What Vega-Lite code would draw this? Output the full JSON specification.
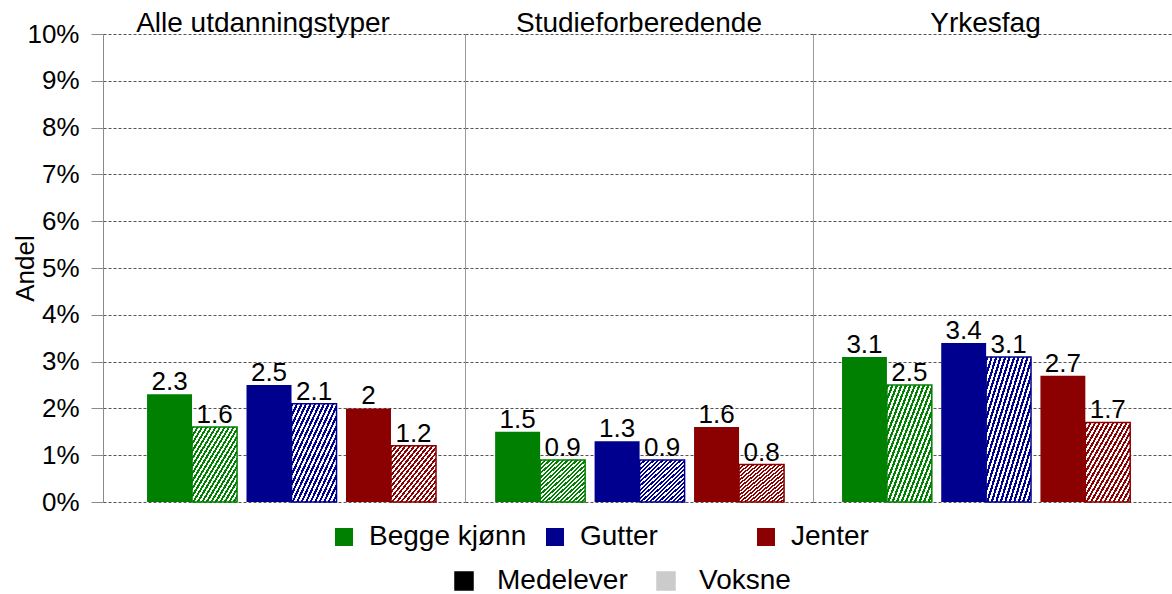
{
  "$schema": "https://vega.github.io/schema/vega-lite/v6.json",
  "padding": {"left": 12, "top": 10, "right": 0, "bottom": 0},
  "data": {"values": [
    {"category": "Alle utdanningstyper", "gender": "Begge kjønn", "type": "Medelever", "value": 2.3},
    {"category": "Alle utdanningstyper", "gender": "Begge kjønn", "type": "Voksne", "value": 1.6},
    {"category": "Alle utdanningstyper", "gender": "Gutter", "type": "Medelever", "value": 2.5},
    {"category": "Alle utdanningstyper", "gender": "Gutter", "type": "Voksne", "value": 2.1},
    {"category": "Alle utdanningstyper", "gender": "Jenter", "type": "Medelever", "value": 2},
    {"category": "Alle utdanningstyper", "gender": "Jenter", "type": "Voksne", "value": 1.2},
    {"category": "Studieforberedende", "gender": "Begge kjønn", "type": "Medelever", "value": 1.5},
    {"category": "Studieforberedende", "gender": "Begge kjønn", "type": "Voksne", "value": 0.9},
    {"category": "Studieforberedende", "gender": "Gutter", "type": "Medelever", "value": 1.3},
    {"category": "Studieforberedende", "gender": "Gutter", "type": "Voksne", "value": 0.9},
    {"category": "Studieforberedende", "gender": "Jenter", "type": "Medelever", "value": 1.6},
    {"category": "Studieforberedende", "gender": "Jenter", "type": "Voksne", "value": 0.8},
    {"category": "Yrkesfag", "gender": "Begge kjønn", "type": "Medelever", "value": 3.1},
    {"category": "Yrkesfag", "gender": "Begge kjønn", "type": "Voksne", "value": 2.5},
    {"category": "Yrkesfag", "gender": "Gutter", "type": "Medelever", "value": 3.4},
    {"category": "Yrkesfag", "gender": "Gutter", "type": "Voksne", "value": 3.1},
    {"category": "Yrkesfag", "gender": "Jenter", "type": "Medelever", "value": 2.7},
    {"category": "Yrkesfag", "gender": "Jenter", "type": "Voksne", "value": 1.7}
  ]},
  "spacing": 0,
  "resolve": {"scale": {"x": "independent", "xOffset": "independent", "y": "independent"}},
  "hconcat": [
    {
      "width": 362, "height": 468,
      "title": {"text": "Alle utdanningstyper", "dx": -21, "offset": -39, "baseline": "alphabetic"},
      "transform": [{"filter": "datum.category === 'Alle utdanningstyper'"}],
      "encoding": {
        "x": {"field": "gender", "type": "nominal", "axis": null, "scale": {"domain": ["Begge kjønn", "Gutter", "Jenter"], "paddingInner": 0.095, "paddingOuter": 0.367, "align": 0.603}},
        "y": {"field": "value", "type": "quantitative", "scale": {"domain": [0, 10], "nice": false},
          "axis": {"values": [0,1,2,3,4,5,6,7,8,9,10], "labelExpr": "datum.value + '%'", "title": "Andel", "titlePadding": -12, "labelPadding": 12, "tickSize": 12, "domain": true, "ticks": true, "labels": true, "grid": true}}
      },
      "resolve": {"scale": {"xOffset": "independent"}},
      "layer": [
        {"transform": [{"filter": "datum.type === 'Medelever'"}],
         "mark": {"type": "bar"},
         "encoding": {
           "xOffset": {"field": "type", "type": "nominal", "scale": {"domain": ["Medelever", "Voksne"], "paddingInner": 0, "paddingOuter": 0}},
           "fill": {"field": "gender", "type": "nominal", "scale": {"domain": ["Begge kjønn", "Gutter", "Jenter"], "range": ["#008000", "#00008e", "#8b0000"]},
             "legend": {"title": null, "orient": "none", "legendX": 227, "legendY": 489, "labelOffset": 11, "columnPadding": 14, "gridAlign": "all"}},
           "opacity": {"field": "type", "type": "nominal", "scale": {"domain": ["Medelever", "Voksne"], "range": [1, 0.2]},
             "legend": {"title": null, "orient": "none", "legendX": 347, "legendY": 533, "labelOffset": 19, "columnPadding": 24, "gridAlign": "each", "symbolFillColor": "#000000", "symbolStrokeColor": "#000000", "symbolStrokeWidth": 1.5}}
         }},
        {"transform": [{"filter": "datum.type === 'Voksne'"}],
         "mark": {"type": "bar"},
         "encoding": {
           "xOffset": {"field": "type", "type": "nominal", "scale": {"domain": ["Medelever", "Voksne"], "paddingInner": 0, "paddingOuter": 0}},
           "fill": {"field": "gender", "type": "nominal", "scale": {"domain": ["Begge kjønn", "Gutter", "Jenter"], "range": ["#008000", "#00008e", "#8b0000"]},
             "legend": {"title": null, "orient": "none", "legendX": 227, "legendY": 489, "labelOffset": 11, "columnPadding": 14, "gridAlign": "all"}}
         }},
        {"transform": [{"filter": "datum.type === 'Voksne'"}],
         "mark": {"type": "bar", "strokeWidth": 1.5, "fill": {"gradient": "linear", "x1": 0, "y1": 0, "x2": 1, "y2": 1, "stops": [
        {"offset": 0, "color": "rgba(255,255,255,0)"}, {"offset": 0.025, "color": "rgba(255,255,255,0)"}, {"offset": 0.025, "color": "#ffffff"}, {"offset": 0.05, "color": "#ffffff"},
        {"offset": 0.05, "color": "rgba(255,255,255,0)"}, {"offset": 0.075, "color": "rgba(255,255,255,0)"}, {"offset": 0.075, "color": "#ffffff"}, {"offset": 0.1, "color": "#ffffff"},
        {"offset": 0.1, "color": "rgba(255,255,255,0)"}, {"offset": 0.125, "color": "rgba(255,255,255,0)"}, {"offset": 0.125, "color": "#ffffff"}, {"offset": 0.15, "color": "#ffffff"},
        {"offset": 0.15, "color": "rgba(255,255,255,0)"}, {"offset": 0.175, "color": "rgba(255,255,255,0)"}, {"offset": 0.175, "color": "#ffffff"}, {"offset": 0.2, "color": "#ffffff"},
        {"offset": 0.2, "color": "rgba(255,255,255,0)"}, {"offset": 0.225, "color": "rgba(255,255,255,0)"}, {"offset": 0.225, "color": "#ffffff"}, {"offset": 0.25, "color": "#ffffff"},
        {"offset": 0.25, "color": "rgba(255,255,255,0)"}, {"offset": 0.275, "color": "rgba(255,255,255,0)"}, {"offset": 0.275, "color": "#ffffff"}, {"offset": 0.3, "color": "#ffffff"},
        {"offset": 0.3, "color": "rgba(255,255,255,0)"}, {"offset": 0.325, "color": "rgba(255,255,255,0)"}, {"offset": 0.325, "color": "#ffffff"}, {"offset": 0.35, "color": "#ffffff"},
        {"offset": 0.35, "color": "rgba(255,255,255,0)"}, {"offset": 0.375, "color": "rgba(255,255,255,0)"}, {"offset": 0.375, "color": "#ffffff"}, {"offset": 0.4, "color": "#ffffff"},
        {"offset": 0.4, "color": "rgba(255,255,255,0)"}, {"offset": 0.425, "color": "rgba(255,255,255,0)"}, {"offset": 0.425, "color": "#ffffff"}, {"offset": 0.45, "color": "#ffffff"},
        {"offset": 0.45, "color": "rgba(255,255,255,0)"}, {"offset": 0.475, "color": "rgba(255,255,255,0)"}, {"offset": 0.475, "color": "#ffffff"}, {"offset": 0.5, "color": "#ffffff"},
        {"offset": 0.5, "color": "rgba(255,255,255,0)"}, {"offset": 0.525, "color": "rgba(255,255,255,0)"}, {"offset": 0.525, "color": "#ffffff"}, {"offset": 0.55, "color": "#ffffff"},
        {"offset": 0.55, "color": "rgba(255,255,255,0)"}, {"offset": 0.575, "color": "rgba(255,255,255,0)"}, {"offset": 0.575, "color": "#ffffff"}, {"offset": 0.6, "color": "#ffffff"},
        {"offset": 0.6, "color": "rgba(255,255,255,0)"}, {"offset": 0.625, "color": "rgba(255,255,255,0)"}, {"offset": 0.625, "color": "#ffffff"}, {"offset": 0.65, "color": "#ffffff"},
        {"offset": 0.65, "color": "rgba(255,255,255,0)"}, {"offset": 0.675, "color": "rgba(255,255,255,0)"}, {"offset": 0.675, "color": "#ffffff"}, {"offset": 0.7, "color": "#ffffff"},
        {"offset": 0.7, "color": "rgba(255,255,255,0)"}, {"offset": 0.725, "color": "rgba(255,255,255,0)"}, {"offset": 0.725, "color": "#ffffff"}, {"offset": 0.75, "color": "#ffffff"},
        {"offset": 0.75, "color": "rgba(255,255,255,0)"}, {"offset": 0.775, "color": "rgba(255,255,255,0)"}, {"offset": 0.775, "color": "#ffffff"}, {"offset": 0.8, "color": "#ffffff"},
        {"offset": 0.8, "color": "rgba(255,255,255,0)"}, {"offset": 0.825, "color": "rgba(255,255,255,0)"}, {"offset": 0.825, "color": "#ffffff"}, {"offset": 0.85, "color": "#ffffff"},
        {"offset": 0.85, "color": "rgba(255,255,255,0)"}, {"offset": 0.875, "color": "rgba(255,255,255,0)"}, {"offset": 0.875, "color": "#ffffff"}, {"offset": 0.9, "color": "#ffffff"},
        {"offset": 0.9, "color": "rgba(255,255,255,0)"}, {"offset": 0.925, "color": "rgba(255,255,255,0)"}, {"offset": 0.925, "color": "#ffffff"}, {"offset": 0.95, "color": "#ffffff"},
        {"offset": 0.95, "color": "rgba(255,255,255,0)"}, {"offset": 0.975, "color": "rgba(255,255,255,0)"}, {"offset": 0.975, "color": "#ffffff"}, {"offset": 1, "color": "#ffffff"}
         ]}},
         "encoding": {
           "xOffset": {"field": "type", "type": "nominal", "scale": {"domain": ["Medelever", "Voksne"], "paddingInner": 0, "paddingOuter": 0}},
           "stroke": {"field": "gender", "type": "nominal", "scale": {"domain": ["Begge kjønn", "Gutter", "Jenter"], "range": ["#008000", "#00008e", "#8b0000"]}, "legend": null}
         }},
        {"mark": {"type": "text", "baseline": "alphabetic", "dy": -4, "fontSize": 26, "color": "#000000"},
         "encoding": {
           "xOffset": {"field": "type", "type": "nominal", "scale": {"type": "point", "domain": ["Medelever", "Voksne"], "padding": 0.5}},
           "text": {"field": "value", "type": "quantitative"}
         }}
      ]
    },
    {
      "width": 348, "height": 468,
      "title": {"text": "Studieforberedende", "offset": -26, "baseline": "alphabetic"},
      "transform": [{"filter": "datum.category === 'Studieforberedende'"}],
      "encoding": {
        "x": {"field": "gender", "type": "nominal", "axis": null, "scale": {"domain": ["Begge kjønn", "Gutter", "Jenter"], "paddingInner": 0.095, "paddingOuter": 0.297, "align": 0.51}},
        "y": {"field": "value", "type": "quantitative", "scale": {"domain": [0, 10], "nice": false},
          "axis": {"values": [0,1,2,3,4,5,6,7,8,9,10], "title": null, "domain": true, "domainColor": "#9a9a9a", "ticks": false, "labels": false, "grid": true}}
      },
      "resolve": {"scale": {"xOffset": "independent"}},
      "layer": [
        {"transform": [{"filter": "datum.type === 'Medelever'"}],
         "mark": {"type": "bar"},
         "encoding": {
           "xOffset": {"field": "type", "type": "nominal", "scale": {"domain": ["Medelever", "Voksne"], "paddingInner": 0, "paddingOuter": 0}},
           "fill": {"field": "gender", "type": "nominal", "scale": {"domain": ["Begge kjønn", "Gutter", "Jenter"], "range": ["#008000", "#00008e", "#8b0000"]},
             "legend": {"title": null, "orient": "none", "legendX": 227, "legendY": 489, "labelOffset": 11, "columnPadding": 14, "gridAlign": "all"}},
           "opacity": {"field": "type", "type": "nominal", "scale": {"domain": ["Medelever", "Voksne"], "range": [1, 0.2]}, "legend": null}
         }},
        {"transform": [{"filter": "datum.type === 'Voksne'"}],
         "mark": {"type": "bar"},
         "encoding": {
           "xOffset": {"field": "type", "type": "nominal", "scale": {"domain": ["Medelever", "Voksne"], "paddingInner": 0, "paddingOuter": 0}},
           "fill": {"field": "gender", "type": "nominal", "scale": {"domain": ["Begge kjønn", "Gutter", "Jenter"], "range": ["#008000", "#00008e", "#8b0000"]},
             "legend": {"title": null, "orient": "none", "legendX": 227, "legendY": 489, "labelOffset": 11, "columnPadding": 14, "gridAlign": "all"}}
         }},
        {"transform": [{"filter": "datum.type === 'Voksne'"}],
         "mark": {"type": "bar", "strokeWidth": 1.5, "fill": {"gradient": "linear", "x1": 0, "y1": 0, "x2": 1, "y2": 1, "stops": [
        {"offset": 0, "color": "rgba(255,255,255,0)"}, {"offset": 0.025, "color": "rgba(255,255,255,0)"}, {"offset": 0.025, "color": "#ffffff"}, {"offset": 0.05, "color": "#ffffff"},
        {"offset": 0.05, "color": "rgba(255,255,255,0)"}, {"offset": 0.075, "color": "rgba(255,255,255,0)"}, {"offset": 0.075, "color": "#ffffff"}, {"offset": 0.1, "color": "#ffffff"},
        {"offset": 0.1, "color": "rgba(255,255,255,0)"}, {"offset": 0.125, "color": "rgba(255,255,255,0)"}, {"offset": 0.125, "color": "#ffffff"}, {"offset": 0.15, "color": "#ffffff"},
        {"offset": 0.15, "color": "rgba(255,255,255,0)"}, {"offset": 0.175, "color": "rgba(255,255,255,0)"}, {"offset": 0.175, "color": "#ffffff"}, {"offset": 0.2, "color": "#ffffff"},
        {"offset": 0.2, "color": "rgba(255,255,255,0)"}, {"offset": 0.225, "color": "rgba(255,255,255,0)"}, {"offset": 0.225, "color": "#ffffff"}, {"offset": 0.25, "color": "#ffffff"},
        {"offset": 0.25, "color": "rgba(255,255,255,0)"}, {"offset": 0.275, "color": "rgba(255,255,255,0)"}, {"offset": 0.275, "color": "#ffffff"}, {"offset": 0.3, "color": "#ffffff"},
        {"offset": 0.3, "color": "rgba(255,255,255,0)"}, {"offset": 0.325, "color": "rgba(255,255,255,0)"}, {"offset": 0.325, "color": "#ffffff"}, {"offset": 0.35, "color": "#ffffff"},
        {"offset": 0.35, "color": "rgba(255,255,255,0)"}, {"offset": 0.375, "color": "rgba(255,255,255,0)"}, {"offset": 0.375, "color": "#ffffff"}, {"offset": 0.4, "color": "#ffffff"},
        {"offset": 0.4, "color": "rgba(255,255,255,0)"}, {"offset": 0.425, "color": "rgba(255,255,255,0)"}, {"offset": 0.425, "color": "#ffffff"}, {"offset": 0.45, "color": "#ffffff"},
        {"offset": 0.45, "color": "rgba(255,255,255,0)"}, {"offset": 0.475, "color": "rgba(255,255,255,0)"}, {"offset": 0.475, "color": "#ffffff"}, {"offset": 0.5, "color": "#ffffff"},
        {"offset": 0.5, "color": "rgba(255,255,255,0)"}, {"offset": 0.525, "color": "rgba(255,255,255,0)"}, {"offset": 0.525, "color": "#ffffff"}, {"offset": 0.55, "color": "#ffffff"},
        {"offset": 0.55, "color": "rgba(255,255,255,0)"}, {"offset": 0.575, "color": "rgba(255,255,255,0)"}, {"offset": 0.575, "color": "#ffffff"}, {"offset": 0.6, "color": "#ffffff"},
        {"offset": 0.6, "color": "rgba(255,255,255,0)"}, {"offset": 0.625, "color": "rgba(255,255,255,0)"}, {"offset": 0.625, "color": "#ffffff"}, {"offset": 0.65, "color": "#ffffff"},
        {"offset": 0.65, "color": "rgba(255,255,255,0)"}, {"offset": 0.675, "color": "rgba(255,255,255,0)"}, {"offset": 0.675, "color": "#ffffff"}, {"offset": 0.7, "color": "#ffffff"},
        {"offset": 0.7, "color": "rgba(255,255,255,0)"}, {"offset": 0.725, "color": "rgba(255,255,255,0)"}, {"offset": 0.725, "color": "#ffffff"}, {"offset": 0.75, "color": "#ffffff"},
        {"offset": 0.75, "color": "rgba(255,255,255,0)"}, {"offset": 0.775, "color": "rgba(255,255,255,0)"}, {"offset": 0.775, "color": "#ffffff"}, {"offset": 0.8, "color": "#ffffff"},
        {"offset": 0.8, "color": "rgba(255,255,255,0)"}, {"offset": 0.825, "color": "rgba(255,255,255,0)"}, {"offset": 0.825, "color": "#ffffff"}, {"offset": 0.85, "color": "#ffffff"},
        {"offset": 0.85, "color": "rgba(255,255,255,0)"}, {"offset": 0.875, "color": "rgba(255,255,255,0)"}, {"offset": 0.875, "color": "#ffffff"}, {"offset": 0.9, "color": "#ffffff"},
        {"offset": 0.9, "color": "rgba(255,255,255,0)"}, {"offset": 0.925, "color": "rgba(255,255,255,0)"}, {"offset": 0.925, "color": "#ffffff"}, {"offset": 0.95, "color": "#ffffff"},
        {"offset": 0.95, "color": "rgba(255,255,255,0)"}, {"offset": 0.975, "color": "rgba(255,255,255,0)"}, {"offset": 0.975, "color": "#ffffff"}, {"offset": 1, "color": "#ffffff"}
         ]}},
         "encoding": {
           "xOffset": {"field": "type", "type": "nominal", "scale": {"domain": ["Medelever", "Voksne"], "paddingInner": 0, "paddingOuter": 0}},
           "stroke": {"field": "gender", "type": "nominal", "scale": {"domain": ["Begge kjønn", "Gutter", "Jenter"], "range": ["#008000", "#00008e", "#8b0000"]}, "legend": null}
         }},
        {"mark": {"type": "text", "baseline": "alphabetic", "dy": -4, "fontSize": 26, "color": "#000000"},
         "encoding": {
           "xOffset": {"field": "type", "type": "nominal", "scale": {"type": "point", "domain": ["Medelever", "Voksne"], "padding": 0.5}},
           "text": {"field": "value", "type": "quantitative"}
         }}
      ]
    },
    {
      "width": 359, "height": 468,
      "title": {"text": "Yrkesfag", "dx": -7, "offset": -26, "baseline": "alphabetic"},
      "transform": [{"filter": "datum.category === 'Yrkesfag'"}],
      "encoding": {
        "x": {"field": "gender", "type": "nominal", "axis": null, "scale": {"domain": ["Begge kjønn", "Gutter", "Jenter"], "paddingInner": 0.095, "paddingOuter": 0.357, "align": 0.41}},
        "y": {"field": "value", "type": "quantitative", "scale": {"domain": [0, 10], "nice": false},
          "axis": {"values": [0,1,2,3,4,5,6,7,8,9,10], "title": null, "domain": true, "domainColor": "#9a9a9a", "ticks": false, "labels": false, "grid": true}}
      },
      "resolve": {"scale": {"xOffset": "independent"}},
      "layer": [
        {"transform": [{"filter": "datum.type === 'Medelever'"}],
         "mark": {"type": "bar"},
         "encoding": {
           "xOffset": {"field": "type", "type": "nominal", "scale": {"domain": ["Medelever", "Voksne"], "paddingInner": 0, "paddingOuter": 0}},
           "fill": {"field": "gender", "type": "nominal", "scale": {"domain": ["Begge kjønn", "Gutter", "Jenter"], "range": ["#008000", "#00008e", "#8b0000"]},
             "legend": {"title": null, "orient": "none", "legendX": 227, "legendY": 489, "labelOffset": 11, "columnPadding": 14, "gridAlign": "all"}},
           "opacity": {"field": "type", "type": "nominal", "scale": {"domain": ["Medelever", "Voksne"], "range": [1, 0.2]}, "legend": null}
         }},
        {"transform": [{"filter": "datum.type === 'Voksne'"}],
         "mark": {"type": "bar"},
         "encoding": {
           "xOffset": {"field": "type", "type": "nominal", "scale": {"domain": ["Medelever", "Voksne"], "paddingInner": 0, "paddingOuter": 0}},
           "fill": {"field": "gender", "type": "nominal", "scale": {"domain": ["Begge kjønn", "Gutter", "Jenter"], "range": ["#008000", "#00008e", "#8b0000"]},
             "legend": {"title": null, "orient": "none", "legendX": 227, "legendY": 489, "labelOffset": 11, "columnPadding": 14, "gridAlign": "all"}}
         }},
        {"transform": [{"filter": "datum.type === 'Voksne'"}],
         "mark": {"type": "bar", "strokeWidth": 1.5, "fill": {"gradient": "linear", "x1": 0, "y1": 0, "x2": 1, "y2": 1, "stops": [
        {"offset": 0, "color": "rgba(255,255,255,0)"}, {"offset": 0.025, "color": "rgba(255,255,255,0)"}, {"offset": 0.025, "color": "#ffffff"}, {"offset": 0.05, "color": "#ffffff"},
        {"offset": 0.05, "color": "rgba(255,255,255,0)"}, {"offset": 0.075, "color": "rgba(255,255,255,0)"}, {"offset": 0.075, "color": "#ffffff"}, {"offset": 0.1, "color": "#ffffff"},
        {"offset": 0.1, "color": "rgba(255,255,255,0)"}, {"offset": 0.125, "color": "rgba(255,255,255,0)"}, {"offset": 0.125, "color": "#ffffff"}, {"offset": 0.15, "color": "#ffffff"},
        {"offset": 0.15, "color": "rgba(255,255,255,0)"}, {"offset": 0.175, "color": "rgba(255,255,255,0)"}, {"offset": 0.175, "color": "#ffffff"}, {"offset": 0.2, "color": "#ffffff"},
        {"offset": 0.2, "color": "rgba(255,255,255,0)"}, {"offset": 0.225, "color": "rgba(255,255,255,0)"}, {"offset": 0.225, "color": "#ffffff"}, {"offset": 0.25, "color": "#ffffff"},
        {"offset": 0.25, "color": "rgba(255,255,255,0)"}, {"offset": 0.275, "color": "rgba(255,255,255,0)"}, {"offset": 0.275, "color": "#ffffff"}, {"offset": 0.3, "color": "#ffffff"},
        {"offset": 0.3, "color": "rgba(255,255,255,0)"}, {"offset": 0.325, "color": "rgba(255,255,255,0)"}, {"offset": 0.325, "color": "#ffffff"}, {"offset": 0.35, "color": "#ffffff"},
        {"offset": 0.35, "color": "rgba(255,255,255,0)"}, {"offset": 0.375, "color": "rgba(255,255,255,0)"}, {"offset": 0.375, "color": "#ffffff"}, {"offset": 0.4, "color": "#ffffff"},
        {"offset": 0.4, "color": "rgba(255,255,255,0)"}, {"offset": 0.425, "color": "rgba(255,255,255,0)"}, {"offset": 0.425, "color": "#ffffff"}, {"offset": 0.45, "color": "#ffffff"},
        {"offset": 0.45, "color": "rgba(255,255,255,0)"}, {"offset": 0.475, "color": "rgba(255,255,255,0)"}, {"offset": 0.475, "color": "#ffffff"}, {"offset": 0.5, "color": "#ffffff"},
        {"offset": 0.5, "color": "rgba(255,255,255,0)"}, {"offset": 0.525, "color": "rgba(255,255,255,0)"}, {"offset": 0.525, "color": "#ffffff"}, {"offset": 0.55, "color": "#ffffff"},
        {"offset": 0.55, "color": "rgba(255,255,255,0)"}, {"offset": 0.575, "color": "rgba(255,255,255,0)"}, {"offset": 0.575, "color": "#ffffff"}, {"offset": 0.6, "color": "#ffffff"},
        {"offset": 0.6, "color": "rgba(255,255,255,0)"}, {"offset": 0.625, "color": "rgba(255,255,255,0)"}, {"offset": 0.625, "color": "#ffffff"}, {"offset": 0.65, "color": "#ffffff"},
        {"offset": 0.65, "color": "rgba(255,255,255,0)"}, {"offset": 0.675, "color": "rgba(255,255,255,0)"}, {"offset": 0.675, "color": "#ffffff"}, {"offset": 0.7, "color": "#ffffff"},
        {"offset": 0.7, "color": "rgba(255,255,255,0)"}, {"offset": 0.725, "color": "rgba(255,255,255,0)"}, {"offset": 0.725, "color": "#ffffff"}, {"offset": 0.75, "color": "#ffffff"},
        {"offset": 0.75, "color": "rgba(255,255,255,0)"}, {"offset": 0.775, "color": "rgba(255,255,255,0)"}, {"offset": 0.775, "color": "#ffffff"}, {"offset": 0.8, "color": "#ffffff"},
        {"offset": 0.8, "color": "rgba(255,255,255,0)"}, {"offset": 0.825, "color": "rgba(255,255,255,0)"}, {"offset": 0.825, "color": "#ffffff"}, {"offset": 0.85, "color": "#ffffff"},
        {"offset": 0.85, "color": "rgba(255,255,255,0)"}, {"offset": 0.875, "color": "rgba(255,255,255,0)"}, {"offset": 0.875, "color": "#ffffff"}, {"offset": 0.9, "color": "#ffffff"},
        {"offset": 0.9, "color": "rgba(255,255,255,0)"}, {"offset": 0.925, "color": "rgba(255,255,255,0)"}, {"offset": 0.925, "color": "#ffffff"}, {"offset": 0.95, "color": "#ffffff"},
        {"offset": 0.95, "color": "rgba(255,255,255,0)"}, {"offset": 0.975, "color": "rgba(255,255,255,0)"}, {"offset": 0.975, "color": "#ffffff"}, {"offset": 1, "color": "#ffffff"}
         ]}},
         "encoding": {
           "xOffset": {"field": "type", "type": "nominal", "scale": {"domain": ["Medelever", "Voksne"], "paddingInner": 0, "paddingOuter": 0}},
           "stroke": {"field": "gender", "type": "nominal", "scale": {"domain": ["Begge kjønn", "Gutter", "Jenter"], "range": ["#008000", "#00008e", "#8b0000"]}, "legend": null}
         }},
        {"mark": {"type": "text", "baseline": "alphabetic", "dy": -4, "fontSize": 26, "color": "#000000"},
         "encoding": {
           "xOffset": {"field": "type", "type": "nominal", "scale": {"type": "point", "domain": ["Medelever", "Voksne"], "padding": 0.5}},
           "text": {"field": "value", "type": "quantitative"}
         }}
      ]
    }
  ],
  "config": {
    "font": "Liberation Sans",
    "background": "#ffffff",
    "view": {"stroke": null},
    "title": {"fontSize": 28, "fontWeight": "normal", "color": "#000000", "anchor": "middle", "font": "Liberation Sans"},
    "axis": {
      "labelFontSize": 26, "labelColor": "#000000", "labelFont": "Liberation Sans", "labelFlush": false, "labelOverlap": false,
      "titleFontSize": 26, "titleFontWeight": "normal", "titleColor": "#000000", "titleFont": "Liberation Sans",
      "tickColor": "#8a8a8a", "domainColor": "#8a8a8a",
      "gridColor": "#555555", "gridDash": [3, 2], "gridWidth": 1
    },
    "legend": {
      "direction": "horizontal", "symbolType": "square", "symbolSize": 324, "symbolStrokeWidth": 0,
      "labelFontSize": 28, "labelColor": "#000000", "labelFont": "Liberation Sans", "labelLimit": 400
    }
  }
}
